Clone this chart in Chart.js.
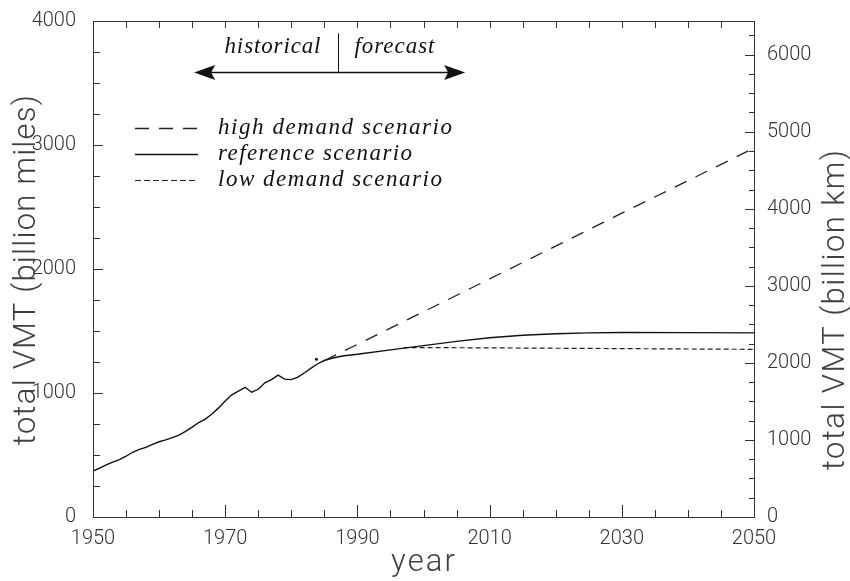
<!DOCTYPE html>
<html>
<head>
<meta charset="utf-8">
<script src="https://cdn.jsdelivr.net/npm/chart.js@4.4.1/dist/chart.umd.min.js"></script>
<style>
  html, body { margin: 0; padding: 0; background: #fff; }
  #wrap { width: 850px; height: 581px; }
</style>
</head>
<body>
<div id="wrap"><canvas id="c" width="850" height="581"></canvas></div>
<script>
// Vehicle miles travelled, billion miles
const refYears = [1950,1951,1952,1953,1954,1955,1956,1957,1958,1959,1960,1961,1962,1963,1964,1965,1966,1967,1968,1969,1970,1971,1972,1973,1974,1975,1976,1977,1978,1979,1980,1981,1982,1983,1984,1985,1986,1987,1988,1990,1995,2000,2005,2010,2015,2020,2025,2030,2040,2050];
const refVMT   = [370,395,420,442,462,490,522,545,562,585,607,622,640,660,690,725,762,790,830,880,935,985,1015,1046,1006,1030,1082,1108,1144,1112,1108,1128,1163,1200,1236,1262,1278,1290,1300,1312,1348,1382,1416,1446,1466,1478,1485,1488,1487,1485];

const highYears = [1985,1990,2000,2010,2020,2030,2040,2050];
const highVMT   = [1262,1392,1655,1920,2185,2450,2712,2975];

const lowYears = [1997,2000,2010,2020,2030,2040,2050];
const lowVMT   = [1366,1366,1364,1361,1358,1355,1352];

const markerYears = [1983.8];
const markerVMT   = [1272];

const seriesLabels = ['high demand scenario', 'reference scenario', 'low demand scenario'];

const xLabelYears = [1950, 1970, 1990, 2010, 2030, 2050];
const MILES_TO_KM = 1.609344;
const yMaxMiles = 4000;

const pairs = (xs, ys) => xs.map((x, i) => ({ x, y: ys[i] }));

const TEXT = '#333';
const sansFont = 'Roboto, "DejaVu Sans", sans-serif';
const serifItalic = 'italic 23px "Liberation Serif", "DejaVu Serif", serif';

// draw text stretched to a given width via letter spacing
function fitText(ctx, text, x, y, width, align) {
  ctx.letterSpacing = '0px';
  const w0 = ctx.measureText(text).width;
  const ls = (width - w0) / Math.max(1, text.length - 1);
  ctx.letterSpacing = ls.toFixed(2) + 'px';
  const w = w0 + ls * (text.length - 1);
  let sx = x;
  if (align === 'center') sx = x - w / 2;
  else if (align === 'right') sx = x - w;
  ctx.textAlign = 'left';
  ctx.fillText(text, sx, y);
  ctx.letterSpacing = '0px';
}

// frame, inward ticks, axis titles, legend and period annotation
const decor = {
  id: 'decor',
  afterDatasetsDraw(chart) {
    const { ctx, chartArea: a, scales } = chart;
    const xs = scales.x, ys = scales.y, y2 = scales.y2;
    ctx.save();
    ctx.strokeStyle = '#333';
    ctx.lineWidth = 1;
    ctx.strokeRect(a.left + 0.5, a.top + 0.5, a.right - a.left, a.bottom - a.top);

    ctx.beginPath();
    xs.ticks.forEach(t => {
      const px = Math.round(xs.getPixelForValue(t.value)) + 0.5;
      if (t.value <= 1950 || t.value >= 2050) return;
      const major = (t.value - 1950) % 20 === 0;
      const lb = major ? 12 : 7;
      ctx.moveTo(px, a.bottom); ctx.lineTo(px, a.bottom - lb);
      ctx.moveTo(px, a.top); ctx.lineTo(px, a.top + 7);
    });
    ys.ticks.forEach(t => {
      if (t.value <= 0 || t.value >= yMaxMiles) return;
      const py = Math.round(ys.getPixelForValue(t.value)) + 0.5;
      const len = t.value % 1000 === 0 ? 10 : 7;
      ctx.moveTo(a.left, py); ctx.lineTo(a.left + len, py);
    });
    y2.ticks.forEach(t => {
      if (t.value <= 0) return;
      const py = Math.round(y2.getPixelForValue(t.value)) + 0.5;
      const len = t.value % 1000 === 0 ? 9 : 5;
      ctx.moveTo(a.right, py); ctx.lineTo(a.right - len, py);
    });
    ctx.stroke();

    // axis titles
    ctx.fillStyle = '#404040';
    ctx.font = '300 31px ' + sansFont;
    ctx.textBaseline = 'alphabetic';
    ctx.save();
    ctx.translate(35, 270);
    ctx.rotate(-Math.PI / 2);
    fitText(ctx, 'total VMT (billion miles)', 0, 0, 350, 'center');
    ctx.restore();
    ctx.save();
    ctx.translate(844, 310);
    ctx.rotate(-Math.PI / 2);
    fitText(ctx, 'total VMT (billion km)', 0, 0, 320, 'center');
    ctx.restore();
    fitText(ctx, 'year', 423, 571, 64, 'center');

    // legend
    const ds = chart.data.datasets;
    const rows = [128, 154, 180];
    const textWidths = [234, 194, 224];
    for (let i = 0; i < 3; i++) {
      const d = ds[i];
      const y = rows[i] + 0.5;
      ctx.beginPath();
      ctx.setLineDash(d.legendDash || []);
      ctx.strokeStyle = d.borderColor;
      ctx.lineWidth = d.borderWidth;
      ctx.moveTo(135, y); ctx.lineTo(198, y);
      ctx.stroke();
      ctx.setLineDash([]);
      ctx.fillStyle = '#111';
      ctx.font = serifItalic;
      fitText(ctx, d.label, 218, rows[i] + 6, textWidths[i], 'left');
    }

    // historical | forecast annotation
    const divX = Math.round(xs.getPixelForValue(1987)) + 0.5;
    const arrowY = Math.round(ys.getPixelForValue(3585)) + 0.5;
    const divTop = ys.getPixelForValue(3900);
    ctx.strokeStyle = '#111';
    ctx.fillStyle = '#111';
    ctx.lineWidth = 1;
    ctx.beginPath();
    ctx.moveTo(divX, divTop); ctx.lineTo(divX, arrowY);
    ctx.stroke();
    const xl = xs.getPixelForValue(1965.3), xr = xs.getPixelForValue(2006.3);
    ctx.lineWidth = 1.6;
    ctx.beginPath();
    ctx.moveTo(xl + 10, arrowY); ctx.lineTo(xr - 10, arrowY);
    ctx.stroke();
    const head = (tip, dir) => {
      ctx.beginPath();
      ctx.moveTo(tip, arrowY);
      ctx.lineTo(tip + dir * 21, arrowY - 7.5);
      ctx.lineTo(tip + dir * 17, arrowY);
      ctx.lineTo(tip + dir * 21, arrowY + 7.5);
      ctx.closePath();
      ctx.fill();
    };
    head(xl, 1);
    head(xr, -1);
    ctx.font = serifItalic;
    fitText(ctx, 'historical', divX - 18, 53, 96, 'right');
    fitText(ctx, 'forecast', divX + 16, 53, 80, 'left');
    ctx.restore();
  }
};

const tickFont = { family: sansFont, size: 20, weight: '300' };

new Chart(document.getElementById('c'), {
  type: 'line',
  data: {
    datasets: [
      { label: seriesLabels[0], data: pairs(highYears, highVMT), borderColor: '#222', borderWidth: 1.3,
        borderDash: [13, 10], legendDash: [14, 10], pointRadius: 0, yAxisID: 'y' },
      { label: seriesLabels[1], data: pairs(refYears, refVMT), borderColor: '#111', borderWidth: 1.4,
        pointRadius: 0, yAxisID: 'y' },
      { label: seriesLabels[2], data: pairs(lowYears, lowVMT), borderColor: '#222', borderWidth: 1.2,
        borderDash: [5, 3], legendDash: [6, 3], pointRadius: 0, yAxisID: 'y' },
      { label: 'marker', data: pairs(markerYears, markerVMT), showLine: false, pointRadius: 1.5,
        pointBackgroundColor: '#111', pointBorderWidth: 0, yAxisID: 'y' }
    ]
  },
  options: {
    responsive: false,
    devicePixelRatio: 1,
    animation: false,
    layout: { padding: { top: 16, left: 0, right: 0, bottom: 0 } },
    plugins: { legend: { display: false }, tooltip: { enabled: false } },
    elements: { line: { tension: 0 } },
    scales: {
      x: {
        type: 'linear', min: 1950, max: 2050,
        grid: { display: false }, border: { display: false },
        ticks: {
          stepSize: 5, autoSkip: false, maxRotation: 0, padding: 2,
          color: TEXT, font: tickFont,
          callback: v => xLabelYears.includes(v) ? String(v) : ''
        },
        afterFit: s => { s.height = 64; }
      },
      y: {
        position: 'left', min: 0, max: yMaxMiles,
        grid: { display: false }, border: { display: false },
        ticks: {
          stepSize: 250, autoSkip: false, padding: 9, color: TEXT, font: tickFont,
          callback: v => v % 1000 === 0 ? String(v) : ''
        },
        afterFit: s => { s.width = 93; }
      },
      y2: {
        position: 'right', min: 0, max: yMaxMiles * MILES_TO_KM,
        grid: { display: false }, border: { display: false },
        ticks: {
          stepSize: 250, includeBounds: false, autoSkip: false, padding: 5, color: TEXT, font: tickFont,
          callback: v => v % 1000 === 0 ? String(v) : ''
        },
        afterFit: s => { s.width = 96; }
      }
    }
  },
  plugins: [decor]
});
</script>
</body>
</html>
